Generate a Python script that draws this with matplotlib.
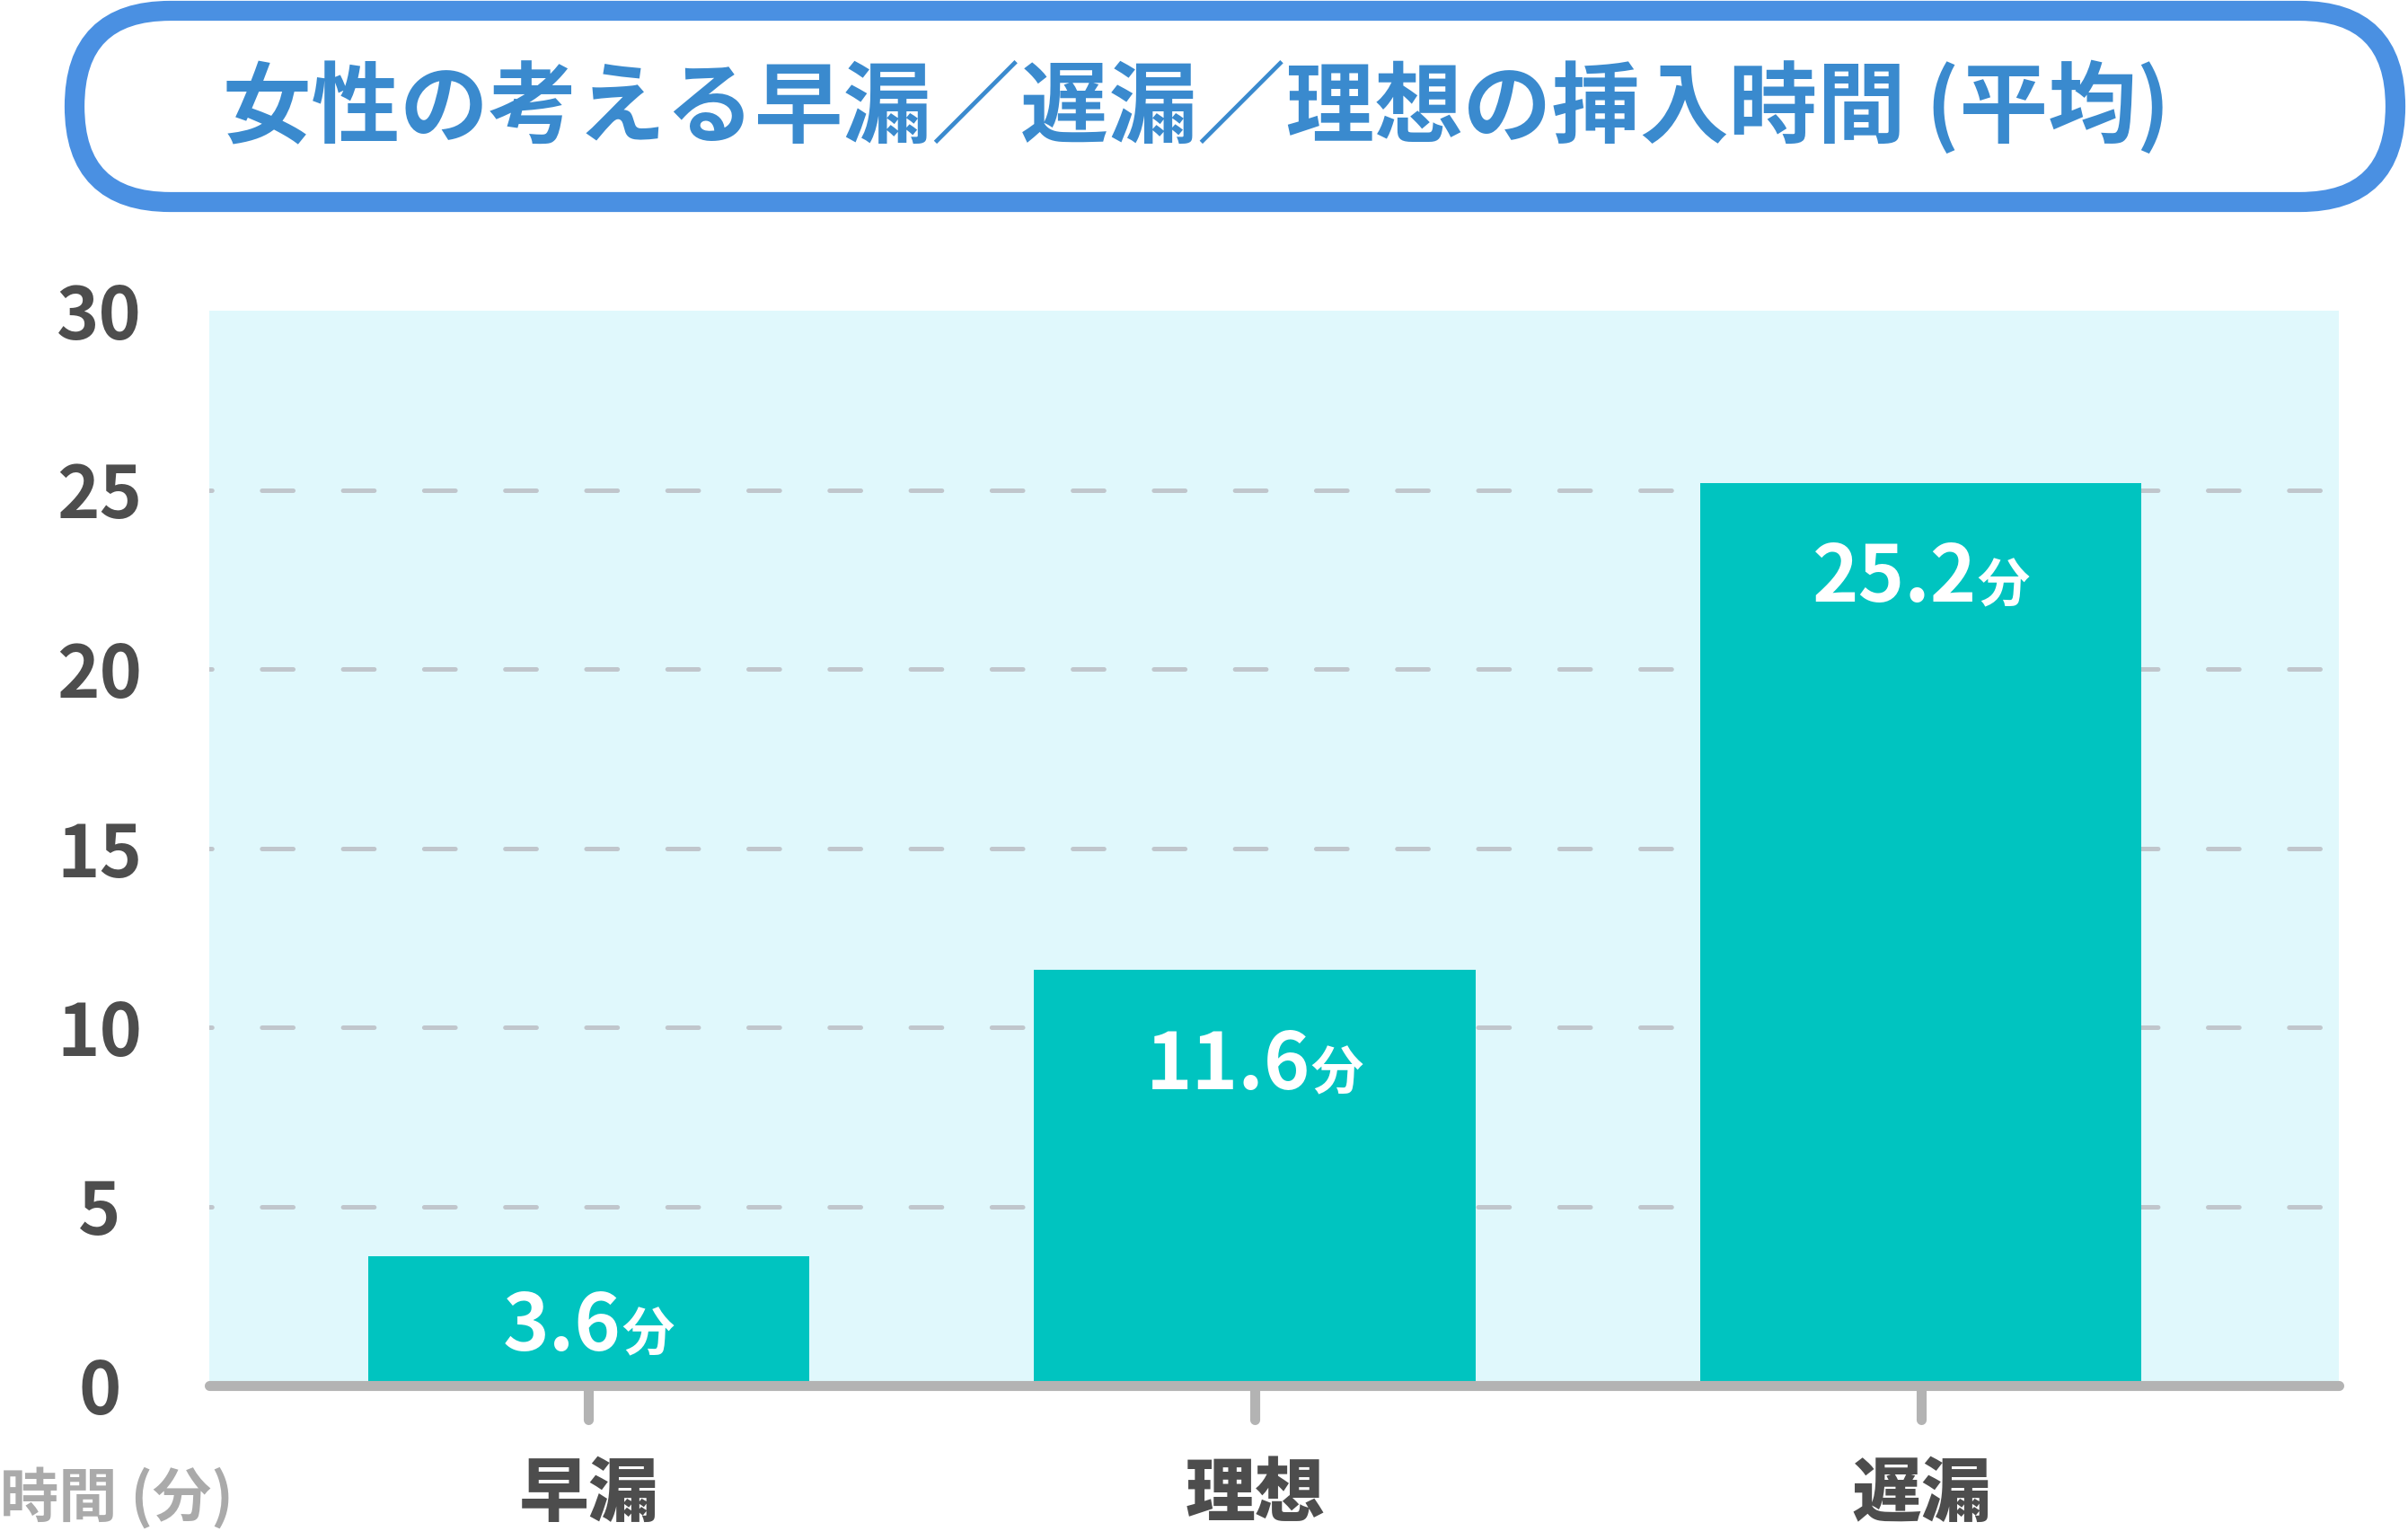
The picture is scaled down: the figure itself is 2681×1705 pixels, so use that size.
"""Bar chart: women's view of early / late / ideal insertion time (average)."""

import matplotlib

matplotlib.use("Agg")
import matplotlib.pyplot as plt
from matplotlib.patches import FancyBboxPatch
from matplotlib.transforms import ScaledTranslation

plt.rcParams["font.family"] = ["Noto Sans CJK JP", "DejaVu Sans"]
plt.rcParams["lines.scale_dashes"] = False

TITLE = "女性の考える早漏／遅漏／理想の挿入時間 (平均)"
CATEGORIES = ["早漏", "理想", "遅漏"]
VALUES = [3.6, 11.6, 25.2]
UNIT = "分"
Y_TICKS = [0, 5, 10, 15, 20, 25, 30]
Y_LABEL = "時間 (分)"

BAR_COLOR = "#00c4c0"
BG_COLOR = "#e0f8fc"
GRID_COLOR = "#c0c6cc"
AXIS_COLOR = "#b3b3b3"
TEXT_DARK = "#4d4d4d"
TITLE_BLUE = "#3a8ace"
BORDER_BLUE = "#4a90e2"

W, H, DPI = 2681, 1705, 100

fig = plt.figure(figsize=(W / DPI, H / DPI), dpi=DPI)

# overlay in pixel coordinates for the title banner
over = fig.add_axes([0, 0, 1, 1], zorder=0)
over.set_xlim(0, W)
over.set_ylim(H, 0)
over.axis("off")
banner = FancyBboxPatch(
    (83, 12), 2584, 213,
    boxstyle="round,pad=0,rounding_size=106.5",
    facecolor="white", edgecolor=BORDER_BLUE, linewidth=16,
)
over.add_patch(banner)
over.text(1332, 120, TITLE, ha="center", va="center", fontsize=71,
          fontweight="bold", color=TITLE_BLUE)

ax = fig.add_axes([233 / W, 1 - 1543 / H, (2604 - 233) / W, (1543 - 346) / H], zorder=1)
ax.set_facecolor(BG_COLOR)
x = list(range(len(CATEGORIES)))
ax.bar(x, VALUES, width=0.662, color=BAR_COLOR, zorder=2)

for t in Y_TICKS[1:-1]:
    ax.axhline(t, color=GRID_COLOR, linewidth=3.6, dash_capstyle="round",
               linestyle=(23, (25, 40)), zorder=1)

ax.set_xlim(-0.569, 2.627)
ax.set_ylim(0, 30)
for side in ("top", "right", "left"):
    ax.spines[side].set_visible(False)
ax.spines["bottom"].set_color(AXIS_COLOR)
ax.spines["bottom"].set_linewidth(8)
ax.spines["bottom"].set_capstyle("round")
ax.spines["bottom"].set_zorder(3)

ax.set_yticks(Y_TICKS)
ax.tick_params(axis="y", length=0, pad=88, labelsize=58, labelcolor=TEXT_DARK)
for lab in ax.get_yticklabels():
    lab.set_ha("center")
    lab.set_fontweight("bold")

ax.set_xticks(x, CATEGORIES)
ax.tick_params(axis="x", length=0, pad=60, labelsize=56, labelcolor=TEXT_DARK)
for lab in ax.get_xticklabels():
    lab.set_fontweight("heavy")

# rounded tick marks under the axis line
for xi in x:
    ax.plot([xi, xi], [0, -0.95], color=AXIS_COLOR, linewidth=8,
            solid_capstyle="round", clip_on=False, zorder=3)

fig.text(0, 1 - 1668 / H, Y_LABEL, ha="left", va="center", fontsize=47,
         fontweight="bold", color="#aaaaaa")

# value labels: big number + small unit, centred as a group
fig.canvas.draw()
renderer = fig.canvas.get_renderer()
for xi, v in zip(x, VALUES):
    centre = v - 2.5 if v >= 10 else v / 2
    base = centre - 0.83
    num = ax.text(xi, base, f"{v:.1f}", ha="left", va="baseline", fontsize=63,
                  fontweight="bold", color="white", zorder=4)
    unit = ax.text(xi, base, UNIT, ha="left", va="baseline", fontsize=42,
                   fontweight="bold", color="white", zorder=4)
    w1 = num.get_window_extent(renderer).width
    w2 = unit.get_window_extent(renderer).width
    gap = 0
    total = w1 + gap + w2
    num.set_transform(ax.transData + ScaledTranslation(-total / 2 / DPI, 0, fig.dpi_scale_trans))
    unit.set_transform(ax.transData + ScaledTranslation((-total / 2 + w1 + gap) / DPI, 0,
                                                        fig.dpi_scale_trans))

fig.savefig("out.png", dpi=DPI)
